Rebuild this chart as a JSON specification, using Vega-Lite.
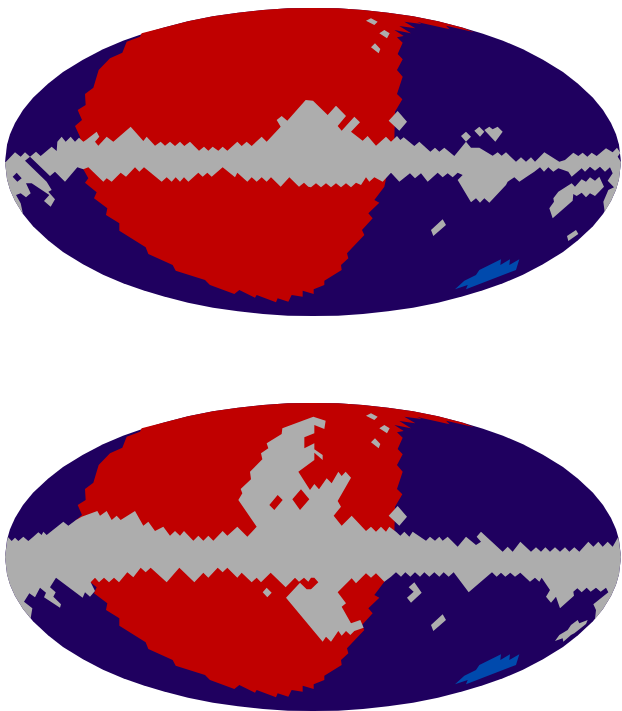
{"$schema":"https://vega.github.io/schema/vega-lite/v6.json","padding":0,"spacing":79,"background":"white","config":{"view":{"stroke":null}},
"datasets":{
"top":[
{"type":"Feature","properties":{"region":"low"},"geometry":{"type":"Polygon","coordinates":[[[-924,0],[-918,52],[-909,83],[-894,117],[-870,156],[-840,193],[-795,235],[-750,270],[-690,307],[-630,338],[-570,364],[-510,385],[-450,403],[-375,422],[-300,437],[-225,448],[-150,456],[-75,461],[0,462],[75,461],[150,456],[225,448],[300,437],[375,422],[450,403],[510,385],[570,364],[630,338],[690,307],[750,270],[795,235],[840,193],[870,156],[894,117],[909,83],[918,52],[924,0],[918,-52],[909,-83],[894,-117],[870,-156],[840,-193],[795,-235],[750,-270],[690,-307],[630,-338],[570,-364],[510,-385],[450,-403],[375,-422],[300,-437],[225,-448],[150,-456],[75,-461],[0,-462],[-75,-461],[-150,-456],[-225,-448],[-300,-437],[-375,-422],[-450,-403],[-510,-385],[-570,-364],[-630,-338],[-690,-307],[-750,-270],[-795,-235],[-840,-193],[-870,-156],[-894,-117],[-909,-83],[-918,-52],[-924,0]]]}},
{"type":"Feature","properties":{"region":"high"},"geometry":{"type":"Polygon","coordinates":[[[-514,386],[-450,403],[-375,422],[-300,437],[-225,448],[-150,456],[-75,461],[0,462],[75,461],[150,456],[225,448],[300,437],[375,422],[450,403],[484,389],[399,409],[410,398],[329,416],[312,421],[326,414],[274,421],[307,401],[259,408],[294,386],[244,396],[272,378],[252,374],[269,358],[254,324],[269,308],[252,276],[269,256],[252,204],[268,188],[246,151],[244,68],[214,-74],[184,-114],[199,-122],[166,-154],[179,-169],[147,-204],[154,-219],[102,-274],[106,-289],[84,-309],[86,-324],[34,-356],[34,-369],[2,-382],[2,-396],[-31,-386],[-31,-404],[-64,-399],[-74,-419],[-106,-409],[-111,-421],[-169,-399],[-174,-407],[-221,-384],[-236,-396],[-309,-369],[-324,-354],[-412,-326],[-421,-309],[-494,-276],[-502,-256],[-581,-206],[-581,-184],[-621,-159],[-617,-139],[-657,-109],[-649,-91],[-684,-62],[-674,-49],[-689,-22],[-699,76],[-714,108],[-693,126],[-706,156],[-682,171],[-684,204],[-659,223],[-643,276],[-609,311],[-572,328],[-559,361],[-519,376],[-514,386]]]}},
{"type":"Feature","properties":{"region":"masked"},"geometry":{"type":"Polygon","coordinates":[[[-921,1],[-894,29],[-877,16],[-864,29],[-849,16],[-831,31],[-817,18],[-784,46],[-769,33],[-767,61],[-754,76],[-742,61],[-727,76],[-714,61],[-702,73],[-689,61],[-681,66],[-649,91],[-641,76],[-654,61],[-644,49],[-619,76],[-599,61],[-547,106],[-509,63],[-499,76],[-474,49],[-457,61],[-444,49],[-429,61],[-414,48],[-399,61],[-386,48],[-369,61],[-342,34],[-327,46],[-314,34],[-301,46],[-284,34],[-271,46],[-257,34],[-227,61],[-214,48],[-199,61],[-184,48],[-154,76],[-139,61],[-97,106],[-109,126],[-94,138],[-77,124],[-22,186],[0,184],[44,141],[69,169],[99,138],[74,108],[86,94],[124,136],[141,119],[114,91],[149,64],[164,78],[189,49],[219,76],[234,61],[252,78],[262,66],[272,74],[304,48],[319,61],[352,31],[366,43],[379,31],[394,43],[424,18],[459,61],[474,43],[499,43],[539,19],[554,29],[566,19],[579,29],[609,1],[624,14],[639,1],[654,14],[666,1],[694,29],[739,1],[756,6],[781,28],[796,18],[809,28],[823,16],[836,28],[851,18],[879,41],[899,29],[912,43],[922,28],[914,16],[924,0],[918,-52],[909,-83],[894,-117],[875,-149],[871,-119],[886,-84],[903,-76],[884,-56],[899,-34],[891,-16],[876,-29],[861,-14],[846,-26],[831,-14],[816,-29],[806,-19],[776,-44],[766,-29],[736,-19],[721,-29],[706,-16],[693,-29],[681,-16],[664,-29],[649,-39],[619,-59],[604,-46],[584,-59],[579,-69],[529,-122],[514,-109],[501,-122],[489,-109],[474,-121],[434,-54],[449,-39],[434,-32],[419,-46],[404,-34],[389,-46],[374,-32],[344,-59],[324,-34],[306,-49],[291,-34],[259,-59],[234,-32],[209,-59],[184,-46],[169,-59],[159,-46],[144,-69],[129,-62],[114,-76],[99,-64],[84,-76],[69,-64],[54,-76],[39,-64],[24,-76],[9,-64],[-6,-76],[-14,-74],[-27,-62],[-42,-74],[-71,-46],[-97,-74],[-126,-46],[-139,-59],[-154,-46],[-169,-59],[-184,-46],[-197,-59],[-227,-32],[-234,-46],[-271,-16],[-304,-44],[-317,-32],[-331,-44],[-344,-32],[-374,-59],[-387,-46],[-399,-59],[-412,-46],[-424,-59],[-439,-46],[-454,-59],[-507,-16],[-521,-29],[-534,-16],[-561,-44],[-577,-32],[-604,-59],[-619,-49],[-629,-59],[-674,-16],[-689,-22],[-707,-16],[-744,-59],[-774,-29],[-789,-42],[-849,16],[-864,4],[-799,-59],[-784,-84],[-794,-89],[-774,-112],[-787,-134],[-807,-117],[-791,-99],[-844,-64],[-861,-64],[-847,-94],[-861,-106],[-877,-94],[-891,-99],[-877,-124],[-870,-156],[-894,-117],[-909,-83],[-918,-52],[-924,0],[-921,1]]]}},
{"type":"Feature","properties":{"region":"low"},"geometry":{"type":"Polygon","coordinates":[[[-901,-44],[-889,-32],[-874,-49],[-887,-59],[-901,-44]]]}},
{"type":"Feature","properties":{"region":"masked"},"geometry":{"type":"MultiPolygon","coordinates":[[[[709,-139],[723,-119],[721,-109],[736,-89],[776,-64],[786,-74],[806,-52],[819,-59],[831,-46],[846,-56],[859,-44],[873,-74],[846,-102],[831,-94],[819,-106],[806,-92],[791,-102],[781,-96],[779,-116],[719,-169],[709,-139]]],[[[762,-222],[789,-204],[796,-216],[766,-237],[762,-222]]],[[[354,-204],[389,-172],[399,-189],[361,-222],[354,-204]]],[[[159,424],[174,431],[194,421],[184,411],[159,424]]],[[[199,386],[214,396],[230,386],[222,371],[199,386]]],[[[174,344],[186,356],[202,339],[197,326],[174,344]]],[[[254,153],[282,121],[259,94],[227,124],[254,153]]],[[[444,78],[459,91],[474,76],[459,61],[444,78]]],[[[484,94],[499,106],[514,91],[501,76],[484,94]]],[[[514,96],[529,106],[539,98],[554,106],[569,91],[547,61],[514,96]]]]}},
{"type":"Feature","properties":{"region":"mid"},"geometry":{"type":"Polygon","coordinates":[[[426,-382],[454,-356],[489,-339],[499,-324],[564,-292],[562,-309],[591,-292],[589,-309],[619,-292],[609,-324],[459,-382],[464,-369],[426,-382]]]}}
],
"bottom":[
{"type":"Feature","properties":{"region":"low"},"geometry":{"type":"Polygon","coordinates":[[[-924,0],[-918,52],[-909,83],[-894,117],[-870,156],[-840,193],[-795,235],[-750,270],[-690,307],[-630,338],[-570,364],[-510,385],[-450,403],[-375,422],[-300,437],[-225,448],[-150,456],[-75,461],[0,462],[75,461],[150,456],[225,448],[300,437],[375,422],[450,403],[510,385],[570,364],[630,338],[690,307],[750,270],[795,235],[840,193],[870,156],[894,117],[909,83],[918,52],[924,0],[918,-52],[909,-83],[894,-117],[870,-156],[840,-193],[795,-235],[750,-270],[690,-307],[630,-338],[570,-364],[510,-385],[450,-403],[375,-422],[300,-437],[225,-448],[150,-456],[75,-461],[0,-462],[-75,-461],[-150,-456],[-225,-448],[-300,-437],[-375,-422],[-450,-403],[-510,-385],[-570,-364],[-630,-338],[-690,-307],[-750,-270],[-795,-235],[-840,-193],[-870,-156],[-894,-117],[-909,-83],[-918,-52],[-924,0]]]}},
{"type":"Feature","properties":{"region":"high"},"geometry":{"type":"Polygon","coordinates":[[[-514,386],[-450,403],[-375,422],[-300,437],[-225,448],[-150,456],[-75,461],[0,462],[75,461],[150,456],[225,448],[300,437],[375,422],[450,403],[484,389],[399,409],[410,398],[329,416],[312,421],[326,414],[274,421],[307,401],[259,408],[294,386],[244,396],[272,378],[252,374],[269,358],[254,324],[269,308],[252,276],[269,256],[252,204],[268,188],[246,151],[244,68],[214,-74],[184,-114],[199,-122],[166,-154],[179,-169],[147,-204],[154,-219],[102,-274],[106,-289],[84,-309],[86,-324],[34,-356],[34,-369],[2,-382],[2,-396],[-31,-386],[-31,-404],[-64,-399],[-74,-419],[-106,-409],[-111,-421],[-169,-399],[-174,-407],[-221,-384],[-236,-396],[-309,-369],[-324,-354],[-412,-326],[-421,-309],[-494,-276],[-502,-256],[-581,-206],[-581,-184],[-621,-159],[-617,-139],[-657,-109],[-649,-91],[-684,-62],[-674,-49],[-689,-22],[-699,76],[-714,108],[-693,126],[-706,156],[-682,171],[-684,204],[-659,223],[-643,276],[-609,311],[-572,328],[-559,361],[-519,376],[-514,386]]]}},
{"type":"Feature","properties":{"region":"masked"},"geometry":{"type":"Polygon","coordinates":[[[-924,0],[-916,61],[-904,48],[-894,58],[-884,48],[-869,61],[-854,48],[-839,61],[-824,74],[-814,66],[-809,76],[-799,66],[-749,106],[-734,94],[-711,111],[-694,121],[-647,138],[-639,124],[-619,138],[-604,111],[-589,124],[-577,111],[-534,138],[-509,94],[-494,106],[-474,78],[-449,91],[-429,64],[-414,78],[-399,64],[-387,78],[-359,49],[-344,64],[-329,49],[-314,64],[-299,49],[-271,78],[-257,64],[-227,91],[-197,61],[-169,91],[-224,171],[-212,191],[-217,204],[-186,233],[-189,256],[-152,293],[-156,311],[-134,326],[-139,341],[-94,369],[-92,386],[1,421],[38,409],[34,384],[4,396],[4,371],[-26,359],[-26,326],[4,341],[4,323],[29,306],[29,291],[4,313],[4,291],[-44,256],[-9,201],[4,219],[18,203],[41,236],[56,221],[76,256],[86,243],[98,256],[114,238],[74,168],[84,151],[62,124],[86,94],[116,124],[159,78],[174,91],[189,76],[204,91],[219,76],[229,91],[249,76],[262,64],[274,76],[289,61],[299,76],[339,49],[351,61],[366,49],[379,61],[389,49],[404,61],[434,31],[459,61],[489,36],[504,46],[491,61],[504,76],[569,16],[584,31],[599,16],[622,46],[654,16],[669,29],[684,16],[697,29],[711,16],[726,29],[741,16],[756,29],[769,16],[784,29],[799,16],[826,46],[841,31],[856,46],[869,31],[884,46],[899,31],[916,61],[924,0],[918,-52],[909,-83],[894,-117],[870,-156],[846,-186],[849,-159],[841,-142],[886,-106],[879,-92],[863,-104],[849,-92],[833,-104],[821,-92],[806,-106],[793,-94],[781,-104],[783,-116],[741,-154],[729,-119],[714,-137],[699,-119],[711,-99],[686,-62],[679,-74],[666,-62],[651,-74],[622,-47],[606,-59],[592,-47],[577,-59],[564,-47],[551,-59],[537,-46],[467,-106],[422,-46],[407,-59],[392,-46],[379,-59],[364,-46],[349,-59],[334,-46],[321,-59],[306,-46],[292,-59],[277,-46],[264,-59],[249,-46],[234,-59],[214,-74],[189,-49],[174,-62],[159,-49],[129,-79],[116,-64],[74,-106],[99,-139],[86,-149],[114,-199],[142,-189],[152,-212],[124,-222],[112,-234],[99,-222],[86,-236],[76,-222],[54,-254],[39,-239],[29,-254],[-81,-122],[-39,-77],[-19,-97],[-6,-97],[16,-76],[4,-62],[-6,-62],[-14,-74],[-27,-62],[-42,-74],[-54,-62],[-82,-91],[-127,-47],[-156,-76],[-169,-62],[-184,-76],[-214,-47],[-227,-62],[-257,-32],[-271,-46],[-286,-32],[-314,-62],[-329,-47],[-356,-76],[-401,-32],[-439,-76],[-487,-32],[-502,-46],[-517,-32],[-539,-61],[-557,-46],[-582,-76],[-597,-62],[-612,-76],[-627,-62],[-642,-76],[-654,-62],[-667,-76],[-654,-102],[-669,-119],[-684,-106],[-691,-122],[-771,-62],[-789,-91],[-772,-106],[-779,-119],[-756,-142],[-759,-152],[-807,-121],[-801,-107],[-819,-92],[-834,-121],[-851,-109],[-867,-134],[-842,-154],[-847,-184],[-870,-156],[-894,-117],[-909,-83],[-918,-52],[-924,0]]]}},
{"type":"Feature","properties":{"region":"high"},"geometry":{"type":"MultiPolygon","coordinates":[[[[-131,156],[-106,186],[-91,171],[-116,141],[-131,156]]],[[[-62,173],[-36,203],[-11,173],[-39,141],[-62,173]]]]}},
{"type":"Feature","properties":{"region":"masked"},"geometry":{"type":"MultiPolygon","coordinates":[[[[-151,-106],[-139,-92],[-124,-107],[-137,-121],[-151,-106]]],[[[287,-91],[304,-76],[326,-107],[294,-137],[282,-122],[302,-104],[287,-91]]],[[[354,-204],[389,-172],[399,-189],[361,-222],[354,-204]]],[[[726,-252],[739,-234],[764,-219],[774,-204],[794,-189],[799,-199],[824,-189],[819,-201],[784,-229],[774,-234],[751,-254],[749,-244],[726,-252]]],[[[159,424],[174,431],[194,421],[184,411],[159,424]]],[[[199,386],[214,396],[230,386],[222,371],[199,386]]],[[[174,344],[186,356],[202,339],[197,326],[174,344]]],[[[254,153],[282,121],[259,94],[227,124],[254,153]]]]}},
{"type":"Feature","properties":{"region":"mid"},"geometry":{"type":"Polygon","coordinates":[[[426,-382],[454,-356],[489,-339],[499,-324],[564,-292],[562,-309],[591,-292],[589,-309],[619,-292],[609,-324],[459,-382],[464,-369],[426,-382]]]}}
]
},
"vconcat":[
{"width":622,"height":316,"data":{"name":"top"},"projection":{"type":"identity","reflectY":true,"scale":0.33333,"translate":[313,162]},"mark":{"type":"geoshape","strokeWidth":0},"encoding":{"color":{"field":"properties.region","type":"nominal","legend":null,"scale":{"domain":["low","mid","high","masked"],"range":["#1f005f","#004aad","#c00000","#adadad"]}}}},
{"width":622,"height":316,"data":{"name":"bottom"},"projection":{"type":"identity","reflectY":true,"scale":0.33333,"translate":[313,162]},"mark":{"type":"geoshape","strokeWidth":0},"encoding":{"color":{"field":"properties.region","type":"nominal","legend":null,"scale":{"domain":["low","mid","high","masked"],"range":["#1f005f","#004aad","#c00000","#adadad"]}}}}
]}
